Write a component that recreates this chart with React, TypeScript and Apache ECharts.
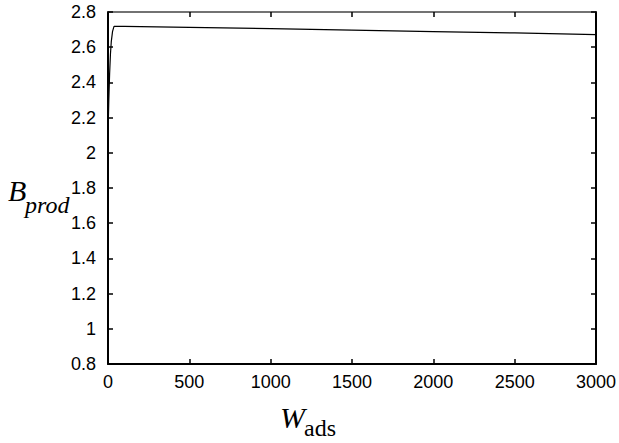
import React, { useEffect, useRef } from "react";
import * as echarts from "echarts";

const wads: number[] = [0, 5, 10, 15, 20, 28, 37, 100, 500, 1000, 1500, 2000, 2500, 3000];
const bprod: number[] = [2.1, 2.3, 2.45, 2.56, 2.63, 2.69, 2.718, 2.718, 2.713, 2.705, 2.697, 2.689, 2.681, 2.672];
const xTicks: number[] = [0, 500, 1000, 1500, 2000, 2500, 3000];
const yTicks: number[] = [0.8, 1, 1.2, 1.4, 1.6, 1.8, 2, 2.2, 2.4, 2.6, 2.8];

export default function App() {
  const ref = useRef<HTMLDivElement>(null);
  useEffect(() => {
    if (!ref.current) return;
    const chart = echarts.init(ref.current, null, { renderer: "svg" });
    const labelFont = "Liberation Sans, Arial, Helvetica, sans-serif";
    const serif = "Liberation Serif, Times New Roman, serif";
    const data = wads.map((w, i) => [w, bprod[i]]);
    const fmtY = (v: number) => String(Math.round(v * 10) / 10);
    const fmtX = (v: number) => String(Math.round(v));
    chart.setOption({
      animation: false,
      backgroundColor: "#ffffff",
      grid: { left: 108, right: 21, top: 12, bottom: 79, containLabel: false },
      xAxis: [
        {
          type: "value",
          min: xTicks[0],
          max: xTicks[xTicks.length - 1],
          interval: 500,
          position: "bottom",
          axisLine: { show: true, lineStyle: { color: "#000", width: 2 } },
          axisTick: { show: true, inside: true, length: 5, lineStyle: { color: "#000", width: 1.5 } },
          axisLabel: { show: true, color: "#000", fontSize: 18, fontFamily: labelFont, margin: 9, formatter: fmtX },
          splitLine: { show: false },
        },
        {
          type: "value",
          min: xTicks[0],
          max: xTicks[xTicks.length - 1],
          interval: 500,
          position: "top",
          axisLine: { show: true, onZero: false, lineStyle: { color: "#444", width: 1.5 } },
          axisTick: { show: true, inside: true, length: 5, lineStyle: { color: "#000", width: 1.5 } },
          axisLabel: { show: false },
          splitLine: { show: false },
        },
      ],
      yAxis: [
        {
          type: "value",
          min: yTicks[0],
          max: yTicks[yTicks.length - 1],
          interval: 0.2,
          position: "left",
          axisLine: { show: true, onZero: false, lineStyle: { color: "#000", width: 2 } },
          axisTick: { show: true, inside: true, length: 5, lineStyle: { color: "#000", width: 1.5 } },
          axisLabel: { show: true, color: "#000", fontSize: 18, fontFamily: labelFont, margin: 12, formatter: fmtY },
          splitLine: { show: false },
        },
        {
          type: "value",
          min: yTicks[0],
          max: yTicks[yTicks.length - 1],
          interval: 0.2,
          position: "right",
          axisLine: { show: true, onZero: false, lineStyle: { color: "#000", width: 2 } },
          axisTick: { show: true, inside: true, length: 5, lineStyle: { color: "#000", width: 1.5 } },
          axisLabel: { show: false },
          splitLine: { show: false },
        },
      ],
      series: [
        {
          type: "line",
          xAxisIndex: 0,
          yAxisIndex: 0,
          data,
          showSymbol: false,
          symbol: "none",
          lineStyle: { color: "#000", width: 1.2 },
        },
      ],
      graphic: [
        {
          type: "text",
          left: 8,
          top: 175,
          style: { text: "B", font: "italic 30px " + serif, fill: "#000" },
        },
        {
          type: "text",
          left: 25,
          top: 193,
          style: { text: "prod", font: "italic 24px " + serif, fill: "#000" },
        },
        {
          type: "text",
          left: 280,
          top: 402,
          style: { text: "W", font: "italic 30px " + serif, fill: "#000" },
        },
        {
          type: "text",
          left: 304,
          top: 416,
          style: { text: "ads", font: "24px " + serif, fill: "#000" },
        },
      ],
    });
    return () => chart.dispose();
  }, []);
  return (
    <div
      ref={ref}
      style={{ position: "fixed", left: 0, top: 0, width: 619, height: 443, background: "#fff" }}
    />
  );
}
